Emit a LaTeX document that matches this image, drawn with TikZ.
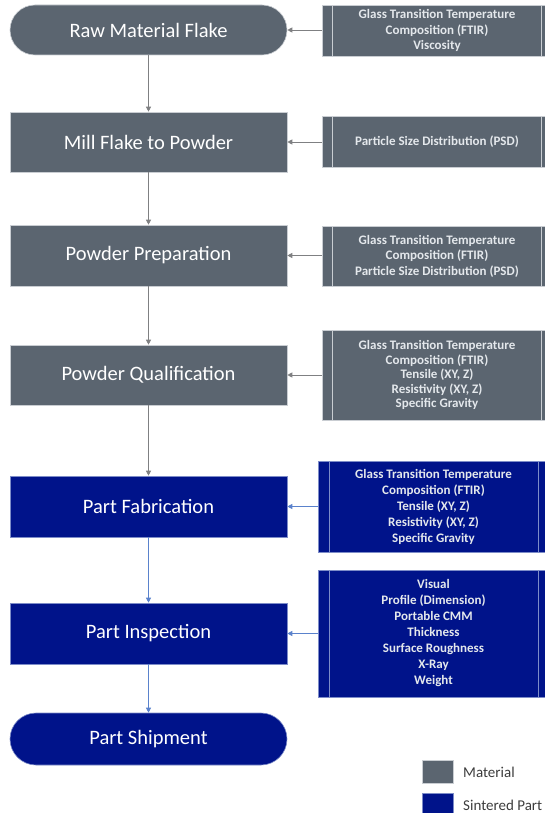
\documentclass[tikz,border=0pt]{standalone}
\usepackage{fontspec}
\setmainfont{Carlito}
\usetikzlibrary{arrows.meta}
\definecolor{matgray}{HTML}{5B6570}
\definecolor{sintblue}{HTML}{00138A}
\definecolor{arrgray}{HTML}{7F8082}
\definecolor{arrblue}{HTML}{5A82CC}
\definecolor{edgegray}{HTML}{C9CDD2}
\definecolor{edgeblue}{HTML}{7D8CC8}
\definecolor{proptext}{HTML}{E4E8EC}
\definecolor{legtext}{HTML}{3C3C3C}
\tikzset{
  mainbox/.style={draw=edgegray, line width=0.6pt, minimum width=277pt, inner sep=0pt,
    text=white, font=\fontsize{20.5}{24}\selectfont},
  matbox/.style={mainbox, fill=matgray},
  sintbox/.style={mainbox, fill=sintblue, draw=edgeblue},
  pillbox/.style={rounded corners=25pt},
  propbase/.style={line width=0.6pt, align=center, inner sep=0pt, text=proptext,
    font=\bfseries\fontsize{13}{15.5}\selectfont},
  matprop/.style={propbase, draw=edgegray, fill=matgray, minimum width=230pt,
    path picture={
      \draw[edgegray, line width=0.9pt] ([xshift=10pt]path picture bounding box.north west) -- ([xshift=10pt]path picture bounding box.south west);
      \draw[edgegray, line width=0.9pt] ([xshift=-11pt]path picture bounding box.north east) -- ([xshift=-11pt]path picture bounding box.south east);
    }},
  sintprop/.style={propbase, draw=edgeblue, fill=sintblue, minimum width=231pt,
    font=\bfseries\fontsize{13}{16}\selectfont,
    path picture={
      \draw[edgeblue, line width=0.9pt] ([xshift=11pt]path picture bounding box.north west) -- ([xshift=11pt]path picture bounding box.south west);
      \draw[edgeblue, line width=0.9pt] ([xshift=-11pt]path picture bounding box.north east) -- ([xshift=-11pt]path picture bounding box.south east);
    }},
  garrow/.style={draw=arrgray, line width=0.9pt, -{Triangle[width=5pt,length=5pt]}},
  barrow/.style={draw=arrblue, line width=0.9pt, -{Triangle[width=5pt,length=5pt]}},
  legsq/.style={draw=edgegray, line width=0.8pt, minimum width=31pt, minimum height=23pt, inner sep=0pt},
  legtxt/.style={anchor=west, inner sep=0pt, text=legtext, font=\fontsize{15}{18}\selectfont}
}
\begin{document}
\begin{tikzpicture}[x=1pt,y=-1pt]
\useasboundingbox (0,0) rectangle (545,813);
\clip (0,0) rectangle (545,813);
% main column
\node[matbox, pillbox, minimum height=50pt] (raw) at (148.5,30) {Raw Material Flake};
\node[matbox, minimum height=60pt] (mill) at (148.5,142) {Mill Flake to Powder};
\node[matbox, minimum height=61pt] (prep) at (148.5,255.5) {Powder Preparation};
\node[matbox, minimum height=60pt] (qual) at (148.5,375) {Powder Qualification};
\node[sintbox, minimum height=61pt] (fab) at (148.5,506.5) {Part Fabrication};
\node[sintbox, minimum height=61pt] (insp) at (148.5,633.5) {Part Inspection};
\node[sintbox, pillbox, rounded corners=26pt, minimum height=52pt] (ship) at (148.5,739) {Part Shipment};
% property boxes
\node[matprop, minimum height=51pt] (p1) at (437,30.5) {Glass Transition Temperature\\Composition (FTIR)\\Viscosity};
\node[matprop, minimum height=51pt] (p2) at (437,141.5) {Particle Size Distribution (PSD)};
\node[matprop, minimum height=60pt] (p3) at (437,256) {Glass Transition Temperature\\Composition (FTIR)\\Particle Size Distribution (PSD)};
\node[matprop, minimum height=90pt, font=\bfseries\fontsize{13}{14.5}\selectfont] (p4) at (437,375) {Glass Transition Temperature\\Composition (FTIR)\\Tensile (XY, Z)\\Resistivity (XY, Z)\\Specific Gravity};
\node[sintprop, minimum height=91pt] (p5) at (433.5,506.5) {Glass Transition Temperature\\Composition (FTIR)\\Tensile (XY, Z)\\Resistivity (XY, Z)\\Specific Gravity};
\node[sintprop, minimum height=127pt] (p6) at (433.5,633.5) {Visual\\Profile (Dimension)\\Portable CMM\\Thickness\\Surface Roughness\\X-Ray\\Weight};
% vertical connectors
\draw[garrow] (raw) -- (mill);
\draw[garrow] (mill) -- (prep);
\draw[garrow] (prep) -- (qual);
\draw[garrow] (qual) -- (fab);
\draw[barrow] (fab) -- (insp);
\draw[barrow] (insp) -- (ship);
% horizontal connectors
\draw[garrow] (p1.west |- raw.east) -- (raw.east);
\draw[garrow] (p2.west |- mill.east) -- (mill.east);
\draw[garrow] (p3.west |- prep.east) -- (prep.east);
\draw[garrow] (p4.west |- qual.east) -- (qual.east);
\draw[barrow] (p5.west |- fab.east) -- (fab.east);
\draw[barrow] (p6.west |- insp.east) -- (insp.east);
% legend
\node[legsq, fill=matgray] (lm) at (437.5,771.5) {};
\node[legsq, fill=sintblue, draw=edgeblue] (ls) at (437.5,804.5) {};
\node[legtxt] (lmt) at (463,772) {Material};
\node[legtxt] (lst) at (463,805) {Sintered Part};
\end{tikzpicture}
\end{document}
